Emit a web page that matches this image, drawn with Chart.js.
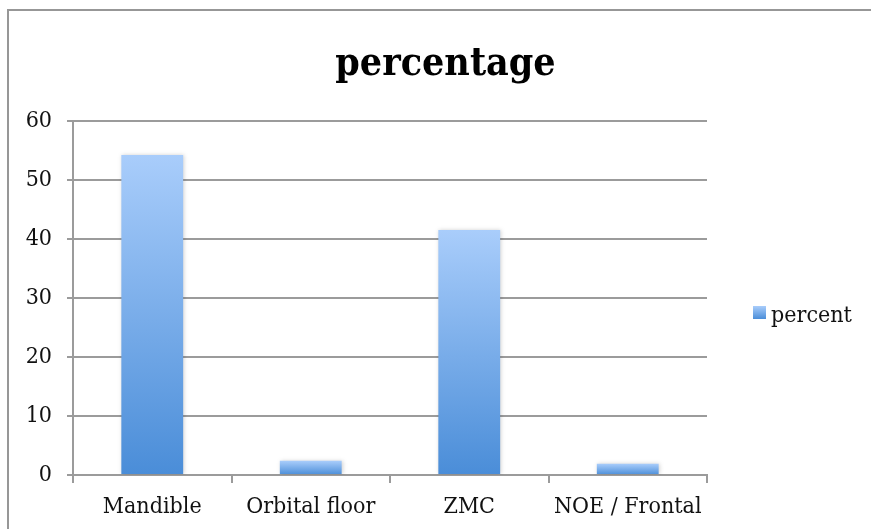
<!DOCTYPE html>
<html>
<head>
<meta charset="utf-8">
<script src="https://cdn.jsdelivr.net/npm/chart.js@4"></script>
<style>
  html, body { margin: 0; padding: 0; background: #fff; }
  #wrap { width: 871px; height: 529px; position: relative; }
</style>
</head>
<body>
<div id="wrap"><canvas id="c" width="871" height="529"></canvas></div>
<script>
const categories = ['Mandible', 'Orbital floor', 'ZMC', 'NOE / Frontal'];
const percentValues = [54.2, 2.4, 41.5, 1.9];
const yTicks = [0, 10, 20, 30, 40, 50, 60];
const seriesName = 'percent';
const chartTitle = 'percentage';

const FONT = "'DejaVu Serif Condensed', 'DejaVu Serif', serif";
const GRID = '#9b9b9b';

// Vertical gradient per bar: light blue at the top fading to a deeper blue at the base
function barFill(ctx) {
  const chart = ctx.chart;
  if (!chart.chartArea || ctx.raw === undefined) return '#7aaeea';
  const y = chart.scales.y;
  const top = y.getPixelForValue(ctx.raw);
  const bot = y.getPixelForValue(0);
  const g = chart.ctx.createLinearGradient(0, top, 0, bot);
  g.addColorStop(0, '#a9cdfb');
  g.addColorStop(1, '#4a8dd8');
  return g;
}

// Outer frame, re-centred title, soft bar shadow and the side legend
const decor = {
  id: 'decor',
  afterLayout(chart) {
    const t = chart.titleBlock;
    if (t) { t.left = 20; t.right = chart.width; t.width = t.right - t.left; }
  },
  beforeDraw(chart) {
    const c = chart.ctx;
    c.save();
    c.fillStyle = '#fff';
    c.fillRect(0, 0, chart.width, chart.height);
    c.strokeStyle = '#979797';
    c.lineWidth = 2;
    c.strokeRect(8, 10, chart.width + 20, chart.height + 20);
    c.restore();
  },
  beforeDatasetsDraw(chart) {
    const c = chart.ctx;
    c.save();
    c.shadowColor = 'rgba(0,0,0,0.18)';
    c.shadowBlur = 4;
    c.shadowOffsetX = 1;
    c.shadowOffsetY = 0;
  },
  afterDatasetsDraw(chart) {
    chart.ctx.restore();
  },
  afterDraw(chart) {
    const c = chart.ctx;
    c.save();
    const bx = 753, by = 306, bs = 13;
    const g = c.createLinearGradient(0, by, 0, by + bs);
    g.addColorStop(0, '#a9cdfb');
    g.addColorStop(1, '#4a8dd8');
    c.fillStyle = g;
    c.fillRect(bx, by, bs, bs);
    c.fillStyle = '#111';
    c.font = '23px ' + FONT;
    c.textAlign = 'left';
    c.textBaseline = 'middle';
    c.fillText(chart.data.datasets[0].label, 771, 316);
    c.restore();
  }
};

new Chart(document.getElementById('c'), {
  type: 'bar',
  data: {
    labels: categories,
    datasets: [{
      label: seriesName,
      data: percentValues,
      backgroundColor: barFill,
      borderWidth: 0,
      barPercentage: 0.39,
      categoryPercentage: 1.0
    }]
  },
  options: {
    responsive: false,
    animation: false,
    devicePixelRatio: 1,
    layout: { padding: { left: 0, right: 164, top: 0, bottom: 0 } },
    plugins: {
      legend: { display: false },
      tooltip: { enabled: false },
      title: {
        display: true,
        text: chartTitle,
        color: '#000',
        font: { family: FONT, size: 39, weight: 'bold', lineHeight: 1.2 },
        padding: { top: 41, bottom: 33 }
      }
    },
    scales: {
      x: {
        offset: true,
        afterFit(s) { s.height = 54; },
        grid: { display: true, drawOnChartArea: false, drawTicks: true, tickLength: 8, color: GRID, lineWidth: 2, offset: true },
        border: { display: true, color: GRID, width: 2 },
        ticks: { color: '#111', font: { family: FONT, size: 23 }, padding: 10 }
      },
      y: {
        min: 0,
        max: 60,
        afterFit(s) { s.width = 73; },
        afterBuildTicks(s) { s.ticks = yTicks.map(v => ({ value: v })); },
        grid: { color: GRID, lineWidth: 2, tickLength: 6, drawTicks: true },
        border: { display: true, color: GRID, width: 2 },
        ticks: { color: '#111', font: { family: FONT, size: 23 }, padding: 15 }
      }
    }
  },
  plugins: [decor]
});
</script>
</body>
</html>
